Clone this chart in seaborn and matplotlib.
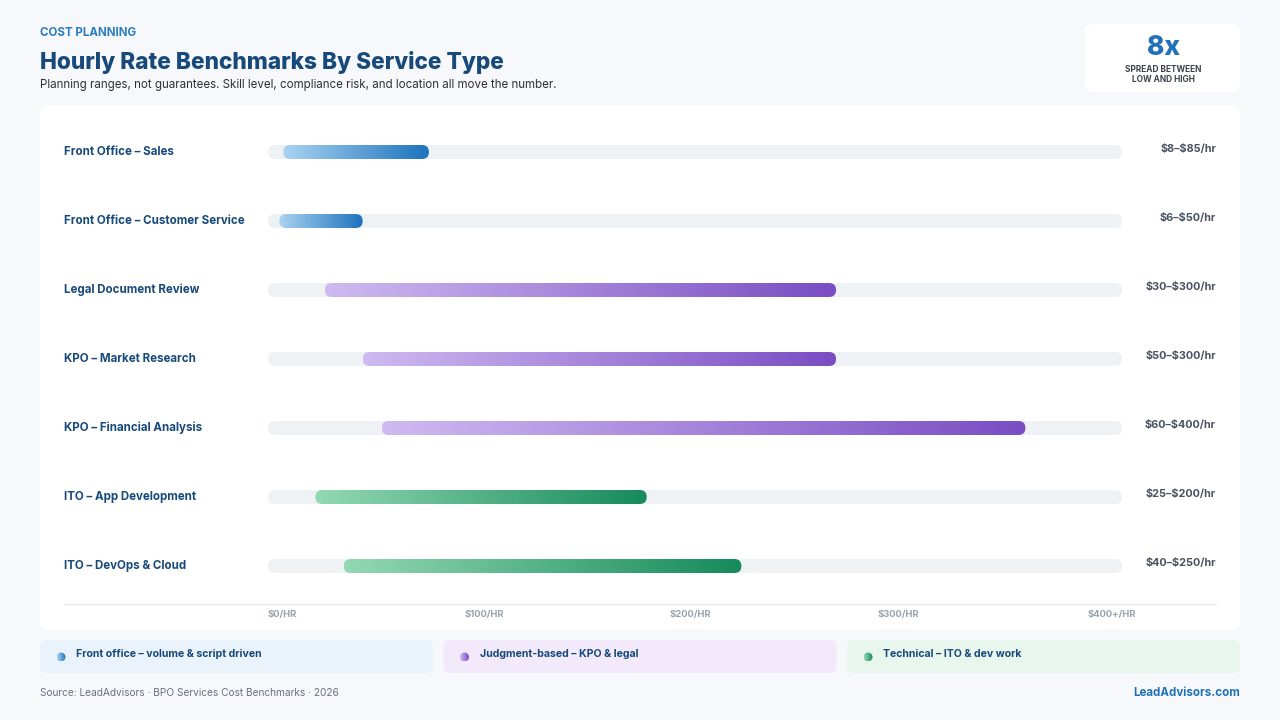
import numpy as np
import matplotlib.pyplot as plt
import seaborn as sns
from matplotlib.patches import FancyBboxPatch, Ellipse

# data
services = ["Front Office – Sales", "Front Office – Customer Service", "Legal Document Review",
            "KPO – Market Research", "KPO – Financial Analysis", "ITO – App Development",
            "ITO – DevOps & Cloud"]
low = [8, 6, 30, 50, 60, 25, 40]
high = [85, 50, 300, 300, 400, 200, 250]
group = ["front", "front", "judgment", "judgment", "judgment", "tech", "tech"]
tick_labels = ["$0/HR", "$100/HR", "$200/HR", "$300/HR", "$400+/HR"]
legend_labels = ["Front office – volume & script driven", "Judgment-based – KPO & legal",
                 "Technical – ITO & dev work"]
legend_groups = ["front", "judgment", "tech"]
XMAX = 451

palettes = {
    "front": ("#a9d3f1", "#1d73bd"),
    "judgment": ("#cfbaf1", "#7a4dc3"),
    "tech": ("#93d9b3", "#168a5b"),
}
tints = {"front": "#eaf3fb", "judgment": "#f2eafb", "tech": "#e8f6ee"}

sns.set_theme(style="white")
plt.rcParams["font.family"] = ["Inter", "DejaVu Sans"]

NAVY = "#17497a"
BLUE = "#1f72b8"

fig = plt.figure(figsize=(12.8, 7.2), dpi=100)
fig.patch.set_facecolor("#f6f8fb")

# background axes in pixel coordinates
bg = fig.add_axes([0, 0, 1, 1])
bg.set_xlim(0, 1280)
bg.set_ylim(720, 0)
bg.axis("off")

def rbox(x0, y0, x1, y1, color, r=8, **kw):
    bg.add_patch(FancyBboxPatch((x0, y0), x1 - x0, y1 - y0,
                                boxstyle=f"round,pad=0,rounding_size={r}",
                                fc=color, ec="none", **kw))

def txt(x, y, s, **kw):
    return bg.text(x, y, s, parse_math=False, **kw)

rbox(40, 105, 1240, 630, "white")
rbox(1085, 24, 1240, 92, "white")

txt(40, 33, "COST PLANNING", color="#2a7cc2", fontsize=8.3, fontweight="bold",
    va="center", ha="left")
txt(40, 63, "Hourly Rate Benchmarks By Service Type", color=NAVY, fontsize=16.3,
    fontweight="heavy", va="center", ha="left")
txt(40, 85, "Planning ranges, not guarantees. Skill level, compliance risk, and location all move the number.",
    color="#2d3138", fontsize=8.3, va="center", ha="left")

txt(1163, 48, "8x", color=BLUE, fontsize=19, fontweight="heavy", ha="center", va="center")
txt(1163, 69, "SPREAD BETWEEN", color="#3c4450", fontsize=6, fontweight="bold",
    ha="center", va="center")
txt(1163, 79, "LOW AND HIGH", color="#3c4450", fontsize=6, fontweight="bold",
    ha="center", va="center")

# axis baseline
bg.plot([64, 1216], [604, 604], color="#e6e9ee", lw=1)

# legend boxes with small gradient dots
dot_grad = np.linspace(0, 1, 64).reshape(1, -1)
for i, (lab, g) in enumerate(zip(legend_labels, legend_groups)):
    x0 = 40 + i * 403.5
    rbox(x0, 640, x0 + 393, 673, tints[g], r=6)
    dot = Ellipse((x0 + 21, 657), 9, 9, fc="none", ec="none")
    bg.add_patch(dot)
    dim = bg.imshow(dot_grad, extent=(x0 + 16.5, x0 + 25.5, 661.5, 652.5), aspect="auto",
                    cmap=sns.blend_palette(palettes[g], as_cmap=True), zorder=3)
    dim.set_clip_path(dot)
    txt(x0 + 36, 654, lab, color=NAVY, fontsize=7.6, fontweight="bold", va="center", ha="left")

txt(40, 693, "Source: LeadAdvisors · BPO Services Cost Benchmarks · 2026", color="#6b7280",
    fontsize=7.3, va="center", ha="left")
txt(1240, 693, "LeadAdvisors.com", color=BLUE, fontsize=8.3, fontweight="bold",
    va="center", ha="right")
bg.set_xlim(0, 1280)
bg.set_ylim(720, 0)

# bar axes: x from 268px to 1122px, rows centred at 152px + 69px*i
ax = fig.add_axes([268 / 1280, 1 - 600.5 / 720, 854 / 1280, 483 / 720])
ax.set_facecolor("none")
ax.axis("off")

px_x = 854 / XMAX
px_y = 69.0
h = 14 / px_y
r = 7 / px_x
aspect = px_x / px_y

grad = np.linspace(0, 1, 256).reshape(1, -1)
for i, (name, lo, hi, g) in enumerate(zip(services, low, high, group)):
    track = FancyBboxPatch((0, i - h / 2), XMAX, h, boxstyle=f"round,pad=0,rounding_size={r}",
                           mutation_aspect=aspect, fc="#eef2f5", ec="none", zorder=1)
    ax.add_patch(track)
    bar = FancyBboxPatch((lo, i - h / 2), hi - lo, h, boxstyle=f"round,pad=0,rounding_size={r}",
                         mutation_aspect=aspect, fc="none", ec="none", zorder=2)
    ax.add_patch(bar)
    cmap = sns.blend_palette(palettes[g], as_cmap=True)
    im = ax.imshow(grad, extent=(lo, hi, i + h / 2, i - h / 2), cmap=cmap, aspect="auto",
                   interpolation="bilinear", zorder=3)
    im.set_clip_path(bar)

    txt(64, 152 + 69 * i, name, color=NAVY, fontsize=8.3, fontweight="bold",
        va="center", ha="left")
    txt(1216, 149 + 69 * i, f"${lo}–${hi}/hr", color="#4a5263", fontsize=7.8,
        fontweight="bold", va="center", ha="right")

ax.set_xlim(0, XMAX)
ax.set_ylim(6.5, -0.5)

# tick labels spread evenly across the track
tick_px = [268, 484, 690, 898, 1136]
for k, t in enumerate(tick_labels):
    ha = "left" if k == 0 else ("right" if k == len(tick_labels) - 1 else "center")
    txt(tick_px[k], 614, t, color="#9aa2ad", fontsize=6.8, fontweight="bold", ha=ha, va="center")

fig.savefig("out.png", dpi=100, facecolor=fig.get_facecolor())
